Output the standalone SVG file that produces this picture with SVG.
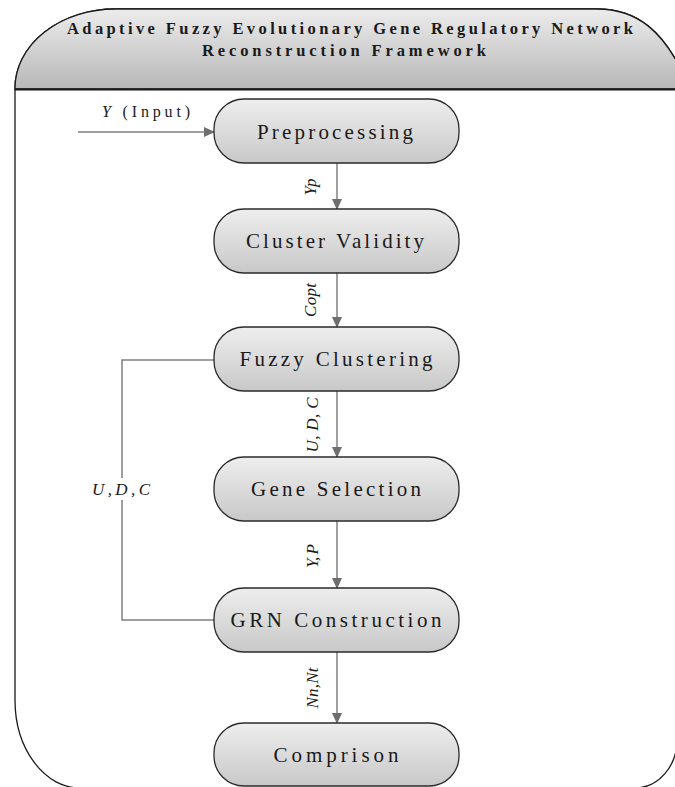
<svg xmlns="http://www.w3.org/2000/svg" width="675" height="787" viewBox="0 0 675 787">
<defs>
<linearGradient id="hdr" x1="0" y1="0" x2="0" y2="1">
<stop offset="0" stop-color="#ececec"/>
<stop offset="1" stop-color="#b8b8b8"/>
</linearGradient>
<linearGradient id="box" x1="0" y1="0" x2="0" y2="1">
<stop offset="0" stop-color="#eeeeee"/>
<stop offset="1" stop-color="#c8c8c8"/>
</linearGradient>
<marker id="ah" markerWidth="11" markerHeight="10" refX="10" refY="5" orient="auto" markerUnits="userSpaceOnUse">
<path d="M0,0 L11,5 L0,10 Z" fill="#6e6e6e"/>
</marker>
</defs>
<style>
.frame{fill:#fff;stroke:#1a1a1a;stroke-width:1.3}
.node rect{fill:url(#box);stroke:#2a2a2a;stroke-width:1.3}
.node text{font-family:"Liberation Serif",serif;font-size:21px;fill:#1a1a1a;text-anchor:middle}
.conn{fill:none;stroke:#808080;stroke-width:1.5}
.lbl{font-family:"Liberation Serif",serif;font-size:17px;font-style:italic;fill:#1a1a1a;text-anchor:middle}
.title{font-family:"Liberation Serif",serif;font-size:16.5px;font-weight:bold;fill:#1a1a1a;text-anchor:middle}
</style>
<g id="frame">
<path class="frame" d="M15,88 A100,79 0 0 1 115,9 L597,9 C635,9 665,28 690,89 L677,89 L677,740 A42,48 0 0 1 635,788 L80,788 A65,88 0 0 1 15,700 Z"/>
<path d="M15,88 A100,79 0 0 1 115,9 L597,9 C635,9 665,28 690,89 L15,89 Z" fill="url(#hdr)" stroke="#1a1a1a" stroke-width="1.3"/>
<line x1="15" y1="89.5" x2="690" y2="89.5" stroke="#1a1a1a" stroke-width="2"/>
<text class="title" x="350" y="34" textLength="566" lengthAdjust="spacing">Adaptive Fuzzy Evolutionary Gene Regulatory Network</text>
<text class="title" x="344" y="56" textLength="284" lengthAdjust="spacing">Reconstruction Framework</text>
</g>
<g id="connectors">
<line class="conn" x1="78" y1="132" x2="214" y2="132" marker-end="url(#ah)"/>
<line class="conn" x1="337" y1="163" x2="337" y2="209" marker-end="url(#ah)"/>
<line class="conn" x1="337" y1="273" x2="337" y2="327" marker-end="url(#ah)"/>
<line class="conn" x1="337" y1="391" x2="337" y2="457" marker-end="url(#ah)"/>
<line class="conn" x1="337" y1="521" x2="337" y2="588" marker-end="url(#ah)"/>
<line class="conn" x1="337" y1="652" x2="337" y2="723" marker-end="url(#ah)"/>
<path class="conn" d="M215,360 H122 V478 M122,500 V620 H215"/>
<text x="102" y="117" font-family="Liberation Serif,serif" font-size="16" fill="#1a1a1a" textLength="88" lengthAdjust="spacing"><tspan font-style="italic">Y</tspan>  (Input)</text>
<text class="lbl" transform="translate(316,187) rotate(-90)" textLength="17" lengthAdjust="spacing">Yp</text>
<text class="lbl" transform="translate(316,300) rotate(-90)" textLength="34" lengthAdjust="spacing">Copt</text>
<text class="lbl" transform="translate(318,425) rotate(-90)" textLength="55" lengthAdjust="spacing">U, D, C</text>
<text class="lbl" transform="translate(318,556) rotate(-90)" textLength="24" lengthAdjust="spacing">Y, P</text>
<text class="lbl" transform="translate(318,688) rotate(-90)" textLength="41" lengthAdjust="spacing">Nn,Nt</text>
<text class="lbl" x="121" y="495" font-size="18" textLength="58" lengthAdjust="spacing">U,D,C</text>
</g>
<g id="n-preprocessing" class="node">
<rect x="214" y="99" width="245" height="64" rx="30" ry="30"/>
<text x="335" y="139" textLength="156" lengthAdjust="spacing">Preprocessing</text>
</g>
<g id="n-cluster-validity" class="node">
<rect x="214" y="209" width="245" height="64" rx="30" ry="30"/>
<text x="335" y="248" textLength="178" lengthAdjust="spacing">Cluster Validity</text>
</g>
<g id="n-fuzzy-clustering" class="node">
<rect x="214" y="327" width="245" height="64" rx="30" ry="30"/>
<text x="336" y="366" textLength="193" lengthAdjust="spacing">Fuzzy Clustering</text>
</g>
<g id="n-gene-selection" class="node">
<rect x="214" y="457" width="245" height="64" rx="30" ry="30"/>
<text x="336" y="496" textLength="170" lengthAdjust="spacing">Gene Selection</text>
</g>
<g id="n-grn-construction" class="node">
<rect x="214" y="588" width="245" height="64" rx="30" ry="30"/>
<text x="336" y="627" textLength="211" lengthAdjust="spacing">GRN Construction</text>
</g>
<g id="n-comprison" class="node">
<rect x="214" y="723" width="245" height="63" rx="30" ry="30"/>
<text x="336" y="762" textLength="125" lengthAdjust="spacing">Comprison</text>
</g>
</svg>
